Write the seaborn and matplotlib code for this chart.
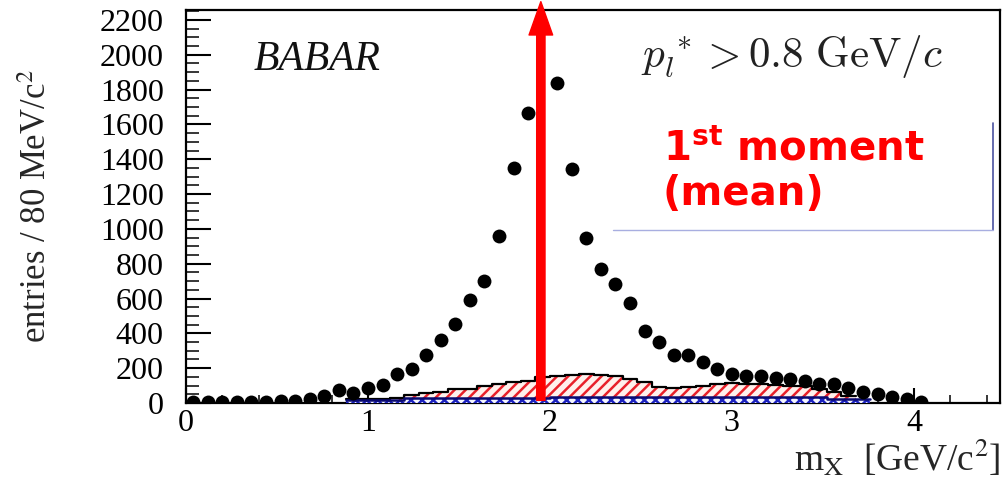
import numpy as np
import matplotlib
matplotlib.use("Agg")
import matplotlib.pyplot as plt
import seaborn as sns
from matplotlib.ticker import MultipleLocator

sns.set_theme(style="ticks")
plt.rcParams["font.family"] = ["Liberation Serif", "DejaVu Serif"]
plt.rcParams["mathtext.fontset"] = "cm"
plt.rcParams["hatch.linewidth"] = 1.8

# Data: hadronic mass spectrum, 80 MeV bins
mass_centers = [0.04, 0.12, 0.20, 0.28, 0.36, 0.44, 0.52, 0.60, 0.68, 0.76,
                0.84, 0.92, 1.00, 1.08, 1.16, 1.24, 1.32, 1.40, 1.48, 1.56,
                1.64, 1.72, 1.80, 1.88, 1.96, 2.04, 2.12, 2.20, 2.28, 2.36,
                2.44, 2.52, 2.60, 2.68, 2.76, 2.84, 2.92, 3.00, 3.08, 3.16,
                3.24, 3.32, 3.40, 3.48, 3.56, 3.64, 3.72, 3.80, 3.88, 3.96,
                4.04]
data_counts = [5, 4, 4, 4, 5, 6, 12, 10, 22, 42,
               72, 58, 85, 105, 167, 195, 276, 362, 454, 592,
               701, 959, 1350, 1666, np.nan, 1838, 1344, 948, 770, 684,
               572, 414, 353, 276, 273, 236, 195, 167, 155, 155,
               144, 135, 126, 109, 109, 86, 63, 52, 34, 23,
               3]

# Total background (outline) and the non-BB part underneath
bkg_edges = [0.88, 0.96, 1.04, 1.12, 1.20, 1.28, 1.36, 1.44, 1.52, 1.60,
             1.68, 1.76, 1.84, 1.92, 2.00, 2.08, 2.16, 2.24, 2.32, 2.40,
             2.48, 2.56, 2.64, 2.72, 2.80, 2.88, 2.96, 3.04, 3.12, 3.20,
             3.28, 3.36, 3.44, 3.52, 3.60, 3.68]
bkg_total = [22, 22, 24, 28, 45, 60, 62, 78, 82, 100,
             108, 120, 128, 152, 155, 160, 168, 160, 155, 140,
             118, 90, 88, 92, 100, 108, 112, 110, 108, 105,
             100, 95, 80, 62, 40]
cont_edges = [0.88, 1.20, 1.60, 2.00, 2.40, 2.80, 3.20, 3.52, 3.76]
cont_counts = [18, 26, 30, 32, 34, 34, 32, 24]

mean_mx = 1.95
x_ticks = [0, 1, 2, 3, 4]
y_ticks = [0, 200, 400, 600, 800, 1000, 1200, 1400, 1600, 1800, 2000, 2200]

fig = plt.figure(figsize=(10.02, 4.79), dpi=100)
ax = fig.add_axes([0.1856, 0.1587, 0.8124, 0.8204])

bkg_centers = [(a + b) / 2 for a, b in zip(bkg_edges[:-1], bkg_edges[1:])]
cont_centers = [(a + b) / 2 for a, b in zip(cont_edges[:-1], cont_edges[1:])]

# red hatched background
sns.histplot(x=bkg_centers, weights=bkg_total, bins=bkg_edges, ax=ax,
             element="bars", fill=True, facecolor="#fff0ec",
             edgecolor="#e8202a", hatch="///", linewidth=0, zorder=1)
sns.histplot(x=bkg_centers, weights=bkg_total, bins=bkg_edges, ax=ax,
             element="step", fill=False, color="black", linewidth=1.6,
             zorder=2)
# blue cross-hatched component
sns.histplot(x=cont_centers, weights=cont_counts, bins=cont_edges, ax=ax,
             element="bars", fill=True, facecolor="#f4f6ff",
             edgecolor="#1c22c0", hatch="xxx", linewidth=0, zorder=3)
sns.histplot(x=cont_centers, weights=cont_counts, bins=cont_edges, ax=ax,
             element="step", fill=False, color="#0a0a70", linewidth=1.8,
             zorder=3)

# data points
sns.scatterplot(x=mass_centers, y=data_counts, ax=ax, color="black",
                edgecolor="black", s=100, linewidth=0, zorder=5)

ax.set_xlim(0, 4.473)
ax.set_ylim(0, 2257)
ax.set_xticks(x_ticks)
ax.set_yticks(y_ticks)
ax.set_xticklabels([str(v) for v in x_ticks])
ax.set_yticklabels([str(v) for v in y_ticks])
ax.xaxis.set_minor_locator(MultipleLocator(0.2))
ax.yaxis.set_minor_locator(MultipleLocator(50))
ax.tick_params(axis="y", which="major", direction="in", length=18, width=1.5,
               labelsize=23, pad=16, colors="black")
ax.tick_params(axis="y", which="minor", direction="in", length=9, width=1.3)
ax.tick_params(axis="x", which="major", direction="in", length=11, width=1.5,
               labelsize=23, pad=4, colors="black")
ax.tick_params(axis="x", which="minor", direction="in", length=6, width=1.3)
for s in ax.spines.values():
    s.set_visible(True)
    s.set_color("black")
    s.set_linewidth(1.6)
ax.set_xlabel("")
ax.set_ylabel("")

# mean marker arrow
ax.annotate("", xy=(mean_mx, 2305), xytext=(mean_mx, 15),
            arrowprops=dict(width=6, headwidth=17, headlength=24,
                            color="#ff0000", shrink=0),
            annotation_clip=False, zorder=10)

ax.text(0.161, 0.847, "BABAR", transform=ax.transAxes, fontsize=30,
        fontstyle="italic", color="#111111", va="baseline", ha="center")
ax.text(0.744, 0.855, r"$p_l^{\,*} > 0.8\ \mathrm{GeV}/c$",
        transform=ax.transAxes, fontsize=31, color="#222222",
        va="baseline", ha="center")

ax.text(0.586, 0.618, r"1$^{\mathbf{st}}$ moment", transform=ax.transAxes,
        fontsize=29, fontweight="bold", family="DejaVu Sans",
        math_fontfamily="dejavusans", color="#ff0000", va="baseline",
        ha="left", zorder=11)
ax.text(0.586, 0.504, "(mean)", transform=ax.transAxes, fontsize=29,
        fontweight="bold", family="DejaVu Sans", color="#ff0000",
        va="baseline", ha="left", zorder=11)

# outline of the label box
ax.plot([0.991, 0.991], [0.7125, 0.440], transform=ax.transAxes,
        color="#4a52a0", lw=1.2, zorder=4)
ax.plot([0.5246, 0.991], [0.440, 0.440], transform=ax.transAxes,
        color="#a8aee0", lw=1.0, zorder=4)

fig.text(0.037, 0.57, r"entries / 80 MeV/c$^{\mathrm{2}}$", rotation=90,
         fontsize=25, math_fontfamily="stix", ha="center", va="center")
fig.text(0.999, 0.016, r"m$_{\mathrm{X}}$  [GeV/c$^{\mathrm{2}}$]",
         fontsize=27, math_fontfamily="stix", ha="right", va="baseline")

fig.savefig("out.png", dpi=100, facecolor="white")
